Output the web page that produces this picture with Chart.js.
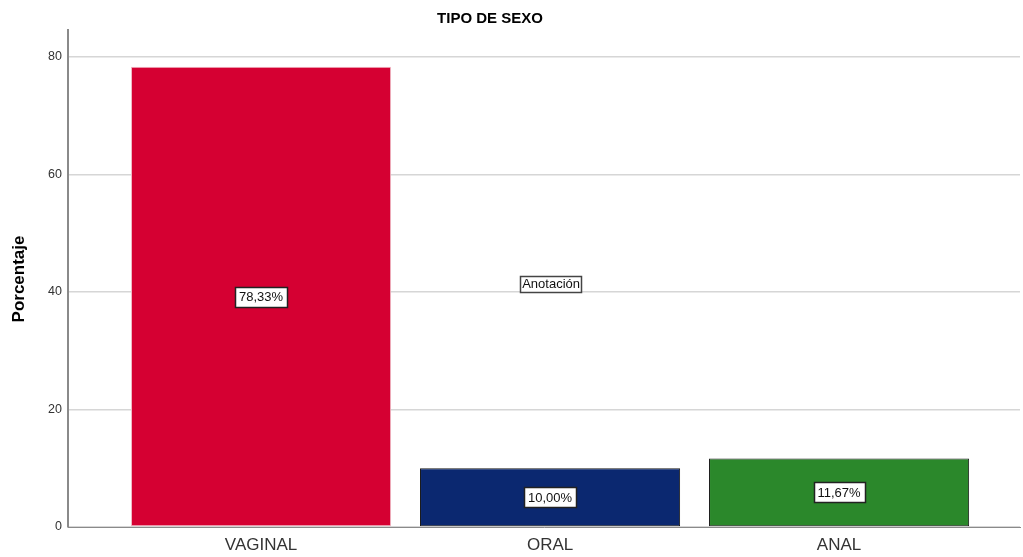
<!DOCTYPE html>
<html>
<head>
<meta charset="utf-8">
<script src="https://cdn.jsdelivr.net/npm/chart.js@4/dist/chart.umd.min.js"></script>
<style>
html,body{margin:0;padding:0;background:#fff;}
#wrap{width:1023px;height:557px;position:relative;}
</style>
</head>
<body>
<div id="wrap"><canvas id="c" width="1023" height="557"></canvas></div>
<script>
const categories = ['VAGINAL', 'ORAL', 'ANAL'];
const percentages = [78.33, 10.00, 11.67];
const valueLabels = ['78,33%', '10,00%', '11,67%'];
const barColors = ['#d50032', '#0b2870', '#2b882b'];
const barBorders = ['#f0b8c4', '#1a1a1a', '#1a1a1a'];
const yTicks = [0, 20, 40, 60, 80];
const annotationText = 'Anotación';
const annotationPos = [1, 41.4];
const chartTitle = 'TIPO DE SEXO';
const yTitle = 'Porcentaje';

const labelPlugin = {
  id: 'labels',
  afterDatasetsDraw(chart) {
    const ctx = chart.ctx;
    const meta = chart.getDatasetMeta(0);
    ctx.save();
    ctx.font = '13px "Liberation Sans", Arial, sans-serif';
    ctx.textAlign = 'center';
    ctx.textBaseline = 'middle';
    meta.data.forEach((bar, i) => {
      const cx = bar.x;
      const cy = (bar.y + bar.base) / 2;
      const t = valueLabels[i];
      const w = Math.round(ctx.measureText(t).width + 8);
      const h = 20;
      const lx = Math.round(cx - w / 2), ly = Math.round(cy - h / 2);
      ctx.fillStyle = '#fff';
      ctx.fillRect(lx, ly, w, h);
      ctx.strokeStyle = '#222';
      ctx.lineWidth = 1.5;
      ctx.strokeRect(lx + 0.5, ly + 0.5, w, h);
      ctx.fillStyle = '#111';
      ctx.fillText(t, cx, cy + 1);
    });
    // annotation
    const ax = chart.scales.x.getPixelForValue(annotationPos[0]);
    const ay = chart.scales.y.getPixelForValue(annotationPos[1]);
    const aw = Math.round(ctx.measureText(annotationText).width + 3);
    const ah = 16;
    const alx = Math.round(ax - aw / 2), aly = Math.round(ay - ah / 2);
    ctx.fillStyle = '#fff';
    ctx.fillRect(alx, aly, aw, ah);
    ctx.strokeStyle = '#444';
    ctx.lineWidth = 1.5;
    ctx.strokeRect(alx + 0.5, aly + 0.5, aw, ah);
    ctx.fillStyle = '#111';
    ctx.fillText(annotationText, ax + 1, ay + 1);
    // titles
    ctx.font = 'bold 15px "Liberation Sans", Arial, sans-serif';
    ctx.fillStyle = '#000';
    ctx.fillText(chartTitle, 490, 19);
    ctx.translate(19, 279);
    ctx.rotate(-Math.PI / 2);
    ctx.font = 'bold 17px "Liberation Sans", Arial, sans-serif';
    ctx.fillText(yTitle, 0, 0);
    ctx.restore();
  }
};

new Chart(document.getElementById('c'), {
  type: 'bar',
  data: {
    datasets: [{
      data: categories.map((c, i) => ({ x: i, y: percentages[i] })),
      backgroundColor: barColors,
      borderColor: barBorders,
      borderWidth: 1,
      borderSkipped: false,
      barPercentage: 0.9,
      categoryPercentage: 1.0
    }]
  },
  options: {
    responsive: false,
    devicePixelRatio: 1,
    animation: false,
    layout: { padding: { top: 30, right: 3, left: 0, bottom: 0 } },
    plugins: { legend: { display: false }, tooltip: { enabled: false }, title: { display: false } },
    scales: {
      x: {
        type: 'linear',
        min: -0.668,
        max: 2.626,
        offset: false,
        afterBuildTicks(s) { s.ticks = categories.map((c, i) => ({ value: i })); },
        afterFit(s) { s.height = 30; },
        grid: { display: false, drawTicks: false },
        border: { display: true, color: '#8a8a8a', width: 1 },
        ticks: {
          callback: (v) => categories[v],
          font: { family: '"Liberation Sans", Arial, sans-serif', size: 17 },
          color: '#333',
          padding: 8,
          maxRotation: 0,
          autoSkip: false
        }
      },
      y: {
        min: 0,
        max: 84.6,
        afterBuildTicks(s) { s.ticks = yTicks.map(v => ({ value: v })); },
        afterFit(s) { s.width = 68; },
        grid: { color: '#d6d6d6', lineWidth: 1.5, drawTicks: false },
        border: { display: true, color: '#8a8a8a', width: 2 },
        ticks: {
          font: { family: '"Liberation Sans", Arial, sans-serif', size: 12.5 },
          color: '#333',
          padding: 6
        }
      }
    }
  },
  plugins: [labelPlugin]
});
</script>
</body>
</html>
